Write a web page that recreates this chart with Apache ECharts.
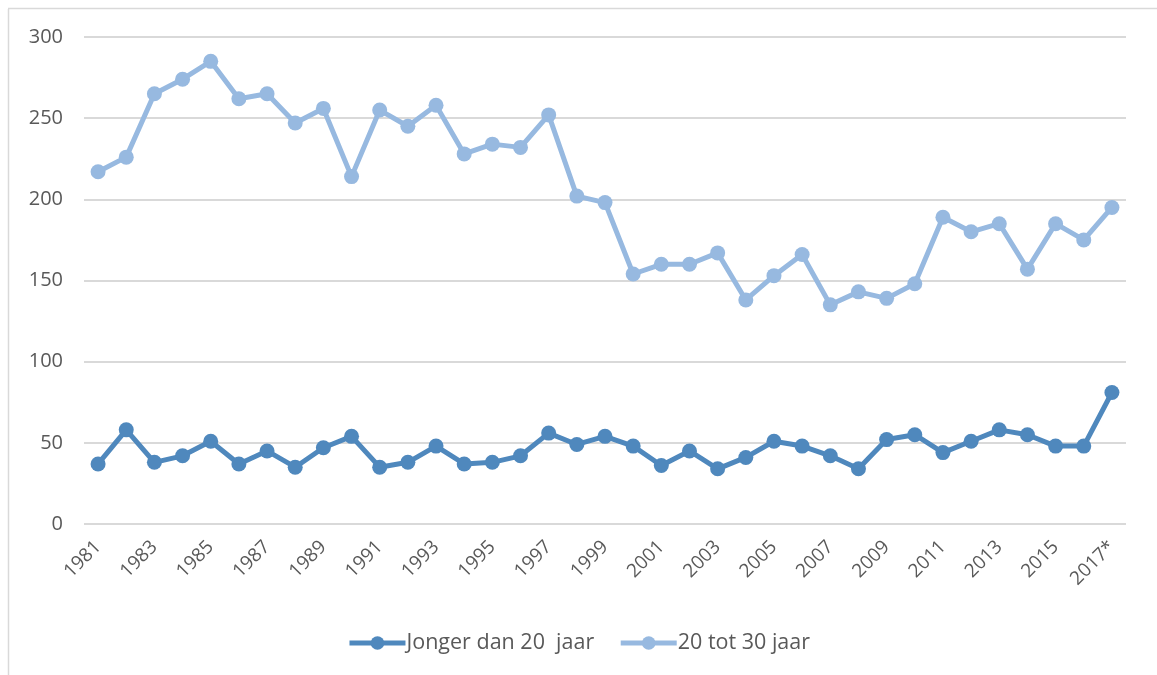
<!DOCTYPE html>
<html>
<head>
<meta charset="utf-8">
<script src="https://cdn.jsdelivr.net/npm/echarts@6/dist/echarts.min.js"></script>
<style>html,body{margin:0;padding:0;background:#fff;}#c{width:1157px;height:675px;}</style>
</head>
<body>
<div id="c"></div>
<script>
const categories = ['1981','1982','1983','1984','1985','1986','1987','1988','1989','1990','1991','1992','1993','1994','1995','1996','1997','1998','1999','2000','2001','2002','2003','2004','2005','2006','2007','2008','2009','2010','2011','2012','2013','2014','2015','2016','2017*'];
const jongerDan20 = [37,58,38,42,51,37,45,35,47,54,35,38,48,37,38,42,56,49,54,48,36,45,34,41,51,48,42,34,52,55,44,51,58,55,48,48,81];
const tot30 = [217,226,265,274,285,262,265,247,256,214,255,245,258,228,234,232,252,202,198,154,160,160,167,138,153,166,135,143,139,148,189,180,185,157,185,175,195];
const seriesNames = ['Jonger dan 20  jaar', '20 tot 30 jaar'];

const chart = echarts.init(document.getElementById('c'));
const font = 'Open Sans';
chart.setOption({
  animation: false,
  graphic: [
    {type:'line', shape:{x1:8.5,y1:9,x2:8.5,y2:675}, style:{stroke:'#d9d9d9', lineWidth:1.5}},
    {type:'line', shape:{x1:8,y1:8.5,x2:1157,y2:8.5}, style:{stroke:'#d9d9d9', lineWidth:1.5}}
  ],
  grid: {left: 84, right: 31, top: 37, bottom: 151, containLabel: false},
  legend: {
    bottom: 16, left: 'center',
    itemWidth: 56, itemHeight: 17, itemGap: 24,
    lineStyle: {width: 5},
    textStyle: {fontFamily: font, fontSize: 21.5, color: '#595959', padding: [0,0,0,-4]},
    data: seriesNames
  },
  xAxis: {
    type: 'category', data: categories, boundaryGap: true,
    axisLine: {show: false}, axisTick: {show: false},
    axisLabel: {interval: 1, rotate: 45, fontFamily: font, fontSize: 19, color: '#595959', margin: 20}
  },
  yAxis: {
    type: 'value', min: 0, max: 300, interval: 50,
    axisLine: {show: false}, axisTick: {show: false},
    axisLabel: {fontFamily: font, fontSize: 20, color: '#595959', margin: 21},
    splitLine: {lineStyle: {color: '#d9d9d9', width: 2}}
  },
  series: [
    {name: seriesNames[0], type: 'line', data: jongerDan20, symbol: 'circle', symbolSize: 15,
     lineStyle: {width: 5, color: '#4F88BD'}, itemStyle: {color: '#4F88BD'}},
    {name: seriesNames[1], type: 'line', data: tot30, symbol: 'circle', symbolSize: 15,
     lineStyle: {width: 5, color: '#97B9E0'}, itemStyle: {color: '#97B9E0'}}
  ]
});
</script>
</body>
</html>
